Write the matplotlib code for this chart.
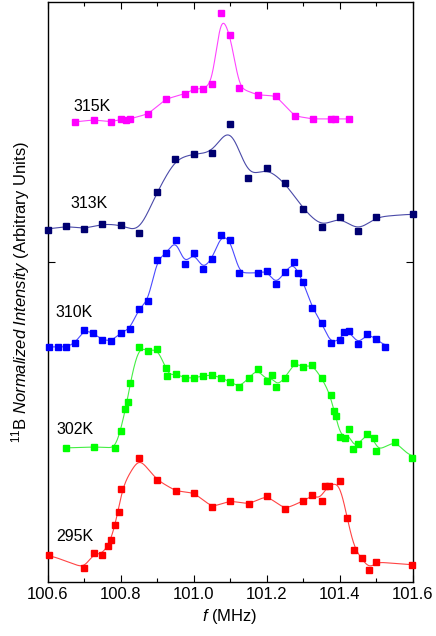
import matplotlib
matplotlib.use("Agg")
import matplotlib.pyplot as plt
import numpy as np

plt.rcParams['font.family'] = ['Liberation Sans', 'DejaVu Sans']
plt.rcParams['mathtext.fontset'] = 'custom'
plt.rcParams['mathtext.rm'] = 'Liberation Sans'
plt.rcParams['mathtext.it'] = 'Liberation Sans:italic'

# spectra: frequency (MHz) and normalized intensity
f_315 = [100.676, 100.726, 100.775, 100.802, 100.816, 100.825, 100.875, 100.925,
         100.975, 101.001, 101.025, 101.050, 101.075, 101.100, 101.125, 101.175,
         101.225, 101.276, 101.326, 101.375, 101.386, 101.425]
i_315 = [0.00, 0.02, 0.00, 0.03, 0.02, 0.03, 0.08, 0.23, 0.28, 0.33, 0.33, 0.38,
         1.09, 0.87, 0.34, 0.27, 0.26, 0.06, 0.03, 0.03, 0.03, 0.03]

f_313 = [100.60, 100.65, 100.70, 100.75, 100.80, 100.85, 100.90, 100.95, 101.00,
         101.05, 101.10, 101.15, 101.20, 101.25, 101.30, 101.35, 101.40, 101.45,
         101.50, 101.60]
i_313 = [0.02, 0.06, 0.03, 0.08, 0.07, -0.01, 0.40, 0.73, 0.78, 0.79, 1.08, 0.54,
         0.64, 0.49, 0.23, 0.05, 0.15, 0.01, 0.15, 0.18]

f_310 = [100.604, 100.628, 100.651, 100.676, 100.700, 100.724, 100.750, 100.775,
         100.800, 100.825, 100.850, 100.875, 100.900, 100.925, 100.951, 100.975,
         101.001, 101.025, 101.050, 101.076, 101.100, 101.125, 101.175, 101.200,
         101.225, 101.250, 101.275, 101.285, 101.300, 101.325, 101.350, 101.375,
         101.400, 101.411, 101.425, 101.450, 101.475, 101.500, 101.525]
i_310 = [0.00, 0.00, 0.00, 0.04, 0.17, 0.14, 0.07, 0.06, 0.14, 0.18, 0.38, 0.46,
         0.87, 0.94, 1.07, 0.83, 0.94, 0.78, 0.88, 1.12, 1.07, 0.74, 0.74, 0.76,
         0.63, 0.75, 0.85, 0.74, 0.65, 0.39, 0.24, 0.04, 0.07, 0.15, 0.16, 0.03,
         0.13, 0.08, 0.00]

f_302 = [100.651, 100.726, 100.786, 100.800, 100.813, 100.820, 100.825, 100.850,
         100.875, 100.900, 100.925, 100.926, 100.951, 100.975, 101.001, 101.025,
         101.050, 101.076, 101.100, 101.125, 101.151, 101.175, 101.200, 101.215,
         101.225, 101.250, 101.275, 101.300, 101.325, 101.350, 101.375, 101.383,
         101.390, 101.400, 101.415, 101.425, 101.435, 101.450, 101.475, 101.494,
         101.500, 101.551, 101.598]
i_302 = [0.01, 0.02, 0.01, 0.18, 0.40, 0.47, 0.66, 1.02, 0.98, 1.00, 0.81, 0.73,
         0.75, 0.71, 0.71, 0.73, 0.74, 0.71, 0.67, 0.62, 0.71, 0.80, 0.68, 0.74,
         0.62, 0.71, 0.86, 0.82, 0.84, 0.71, 0.54, 0.38, 0.33, 0.12, 0.11, 0.20,
         0.00, 0.05, 0.15, 0.11, -0.02, 0.07, -0.09]

f_295 = [100.604, 100.701, 100.726, 100.750, 100.765, 100.775, 100.786, 100.795,
         100.800, 100.850, 100.900, 100.951, 101.001, 101.050, 101.100, 101.151,
         101.200, 101.250, 101.300, 101.325, 101.350, 101.360, 101.370, 101.400,
         101.420, 101.439, 101.460, 101.480, 101.500, 101.598]
i_295 = [0.02, -0.11, 0.04, 0.02, 0.11, 0.17, 0.32, 0.45, 0.68, 0.99, 0.77, 0.66,
         0.64, 0.50, 0.56, 0.53, 0.61, 0.48, 0.56, 0.62, 0.56, 0.71, 0.71, 0.76,
         0.39, 0.07, -0.01, -0.13, -0.05, -0.08]

labels = ['315K', '313K', '310K', '302K', '295K']
series = [(f_315, i_315), (f_313, i_313), (f_310, i_310), (f_302, i_302), (f_295, i_295)]
offsets = [4.60, 3.50, 2.35, 1.33, 0.25]
mcolors = ['#ff00ff', '#000070', '#0000ff', '#00ff00', '#ff0000']
lcolors = ['#ff44ff', '#4a4aa8', '#4a4aff', '#44ee44', '#ff4444']
widths = [0.009, 0.018, 0.009, 0.009, 0.011]
label_pos = [(100.723, 4.75), (100.715, 3.78), (100.674, 2.69), (100.674, 1.52), (100.674, 0.45)]


def smooth(x, y, s, n=1200):
    # gaussian smoothing of the piecewise-linear trace
    grid = np.linspace(min(x), max(x), n)
    yi = np.interp(grid, x, y)
    dx = grid[1] - grid[0]
    half = int(4 * s / dx) + 1
    k = np.exp(-0.5 * (np.arange(-half, half + 1) * dx / s) ** 2)
    num = np.convolve(yi, k, 'same')
    den = np.convolve(np.ones_like(yi), k, 'same')
    return grid, num / den


fig = plt.figure(figsize=(4.36, 6.36), dpi=100)
ax = fig.add_axes([0.109, 0.085, 0.838, 0.912])

for (fx, iy), off, mc, lc, s, lab, pos in zip(series, offsets, mcolors, lcolors, widths, labels, label_pos):
    gx, gy = smooth(fx, iy, s)
    ax.plot(gx, gy + off, color=lc, lw=0.8, zorder=2)
    ax.plot(fx, np.array(iy) + off, 's', color=mc, ms=5, mec=mc, zorder=3, clip_on=False)
    ax.text(pos[0], pos[1], lab, fontsize=11.5, ha='center', va='center')

ax.set_xlim(100.6, 101.6)
ax.set_ylim(0, 5.8)
ax.set_xticks(np.arange(100.6, 101.61, 0.2))
ax.set_xticks(np.arange(100.7, 101.6, 0.2), minor=True)
ax.set_xticklabels(['100.6', '100.8', '101.0', '101.2', '101.4', '101.6'])
ax.set_yticks([3.2])
ax.set_yticklabels([])
ax.tick_params(direction='in', top=True, right=True, labelsize=12, length=5, width=0.8)
ax.tick_params(which='minor', direction='in', top=True, length=3, width=0.8)
for sp in ax.spines.values():
    sp.set_linewidth(1.0)

ax.set_xlabel(r'$\it{f}$ (MHz)', fontsize=12, labelpad=4)
ax.set_ylabel(r'$^{11}$B $\it{Normalized\ Intensity}$ (Arbitrary Units)', fontsize=12, labelpad=8)

fig.savefig('out.png', dpi=100)
